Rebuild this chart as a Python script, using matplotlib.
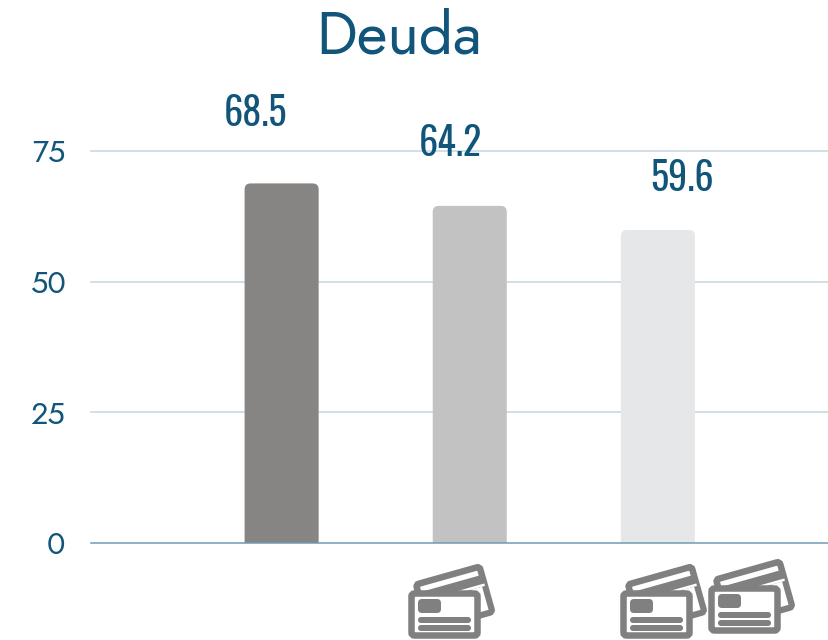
# Deuda bar chart
import matplotlib
matplotlib.use('Agg')
import matplotlib.pyplot as plt
from matplotlib.patches import FancyBboxPatch, Rectangle
from matplotlib.transforms import Affine2D

categories = ['a', 'b', 'c']
values = [68.8, 64.5, 59.9]
value_labels = ['68.5', '64.2', '59.6']
bar_colors = ['#868583', '#c2c2c2', '#e6e7e9']
y_ticks = [0, 25, 50, 75]
card_counts = [0, 1, 2]

W, H = 829, 640
BLUE = '#11567a'
GRAY = '#808080'
TITLE_FONT = ['Jost', 'Josefin Sans', 'Lato']
NUM_FONT = ['Oswald', 'Roboto Condensed']

fig = plt.figure(figsize=(W / 100, H / 100), dpi=100)
ax = fig.add_axes([91 / W, (H - 543) / H, (W - 91) / W, 392 / H])
ax.set_ylim(0, 75)
ax.set_xlim(-190.5 / 188, (W - 282) / 188)
for s in ax.spines.values():
    s.set_visible(False)
ax.set_xticks([])
ax.set_yticks(y_ticks)
ax.tick_params(axis='y', length=0, pad=18.5, labelsize=22, labelcolor=BLUE)
for t in ax.get_yticklabels():
    t.set_fontfamily(TITLE_FONT)
    t.set_fontweight('light')

# gridlines, baseline is darker
for y in y_ticks:
    ax.axhline(y, color='#6f9bb0' if y == 0 else '#c6d6e0', lw=1.1, clip_on=False, zorder=1 if y else 3)

# rounded bars, bottom corners get clipped by the axes
aspect = (75 / 392) * 188
for i, (v, c) in enumerate(zip(values, bar_colors)):
    bar_w = 74 / 188
    ax.add_patch(FancyBboxPatch((i - bar_w / 2, -5), bar_w, v + 5,
                                boxstyle='round,pad=0,rounding_size=%f' % (6 / 188),
                                mutation_aspect=aspect, fc=c, ec='none', zorder=2))

# value labels sit off-centre in the original
label_dx = [-26.5, -19, 24]
label_dy = [57.5, 50, 39]
for i, v in enumerate(values):
    ax.annotate(value_labels[i], (i, v), xytext=(label_dx[i], label_dy[i]), textcoords='offset pixels',
                ha='center', va='baseline', color=BLUE, fontsize=27.5,
                family=NUM_FONT, annotation_clip=False)

fig.text(399 / W, (H - 54) / H, 'Deuda', ha='center', va='baseline', color=BLUE,
         fontsize=43, family=TITLE_FONT, fontweight='light')


def draw_card(ox, oy):
    # icon drawn in image pixels (y down), ox/oy = top left of the front card
    base = Affine2D().translate(ox, oy).scale(1, -1).translate(0, H)
    lw = 6.5 * 0.72
    back = Affine2D().rotate_deg(-15.7).translate(8, -5.5) + base
    fig.add_artist(FancyBboxPatch((0, 0), 66, 47, boxstyle='round,pad=0,rounding_size=3',
                                  fc='white', ec=GRAY, lw=lw, transform=back))
    fig.add_artist(Rectangle((0, 8.5), 66, 38, fc=GRAY, ec='none', transform=back))
    fig.add_artist(Rectangle((28, 17.5), 38, 2.5, fc='white', ec='none', transform=back))
    fig.add_artist(Rectangle((52, 20), 11, 24, fc='white', ec='none', transform=back))
    # front card
    fig.add_artist(FancyBboxPatch((3.5, 3.5), 66, 42, boxstyle='round,pad=0,rounding_size=3',
                                  fc='white', ec=GRAY, lw=lw, transform=base))
    fig.add_artist(FancyBboxPatch((10, 9), 23, 14, boxstyle='round,pad=0,rounding_size=4',
                                  fc=GRAY, ec='none', transform=base))
    for ly in (27, 35):
        fig.add_artist(FancyBboxPatch((10, ly), 53, 6, boxstyle='round,pad=0,rounding_size=3',
                                      fc=GRAY, ec='none', transform=base))


card_x = [[], [-62], [-38, 50]]
card_y = [[], [590], [590, 585]]
for i, n in enumerate(card_counts):
    cx = 282 + 188 * i
    for k in range(n):
        draw_card(cx + card_x[i][k], card_y[i][k])

fig.savefig('out.png', dpi=100)
